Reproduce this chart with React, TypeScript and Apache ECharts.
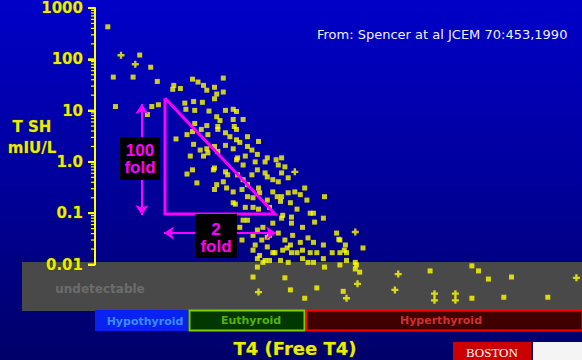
import React, { useEffect, useRef } from "react";
import * as echarts from "echarts";

// TSH axis tick labels (log scale, mIU/L)
const tshTickLabels = ["0.01", "0.1", "1.0", "10", "100", "1000"];
const tshDecades = [0.01, 0.1, 1, 10, 100, 1000];
const minorMultipliers = [2, 3, 4, 5, 6, 7, 8, 9];
// Thyroid states shown in the bar under the chart
const thyroidStates = ["Hypothyroid", "Euthyroid", "Hyperthyroid"];

// [Free T4, TSH] — measurable TSH, small dots
const measuredDots: [number, number][] = [
  [4.8, 430], [7.7, 121], [8.7, 70], [5.3, 45], [7.1, 45], [9.3, 37], [10.8, 31], [10.7, 26],
  [11.4, 27], [12.5, 41], [13.0, 36], [13.5, 31], [13.8, 25], [14.5, 28.5], [15.3, 43], [14.7, 21],
  [15.3, 23], [14.5, 17], [5.5, 12], [8.8, 12], [9.4, 13], [8.4, 8.4], [11.8, 14], [12.6, 15],
  [13.4, 14.5], [11.9, 10.6], [12.7, 10.1], [14.0, 9.8], [15.5, 10.1], [16.2, 10.6], [16.5, 9.6], [14.7, 7.6],
  [15.0, 6.4], [16.2, 6.7], [17.1, 6.7], [12.7, 5.6], [13.8, 5.1], [14.8, 4.9], [16.3, 4.9], [11.0, 2.8],
  [12.0, 3.4], [12.5, 3.9], [13.3, 4.3], [13.9, 3.4], [14.8, 4.3], [15.5, 3.7], [15.9, 3.1], [16.5, 4.3],
  [16.5, 2.7], [17.5, 3.1], [12.6, 2.2], [13.2, 1.7], [12.3, 1.3], [13.5, 1.3], [13.8, 1.8], [14.5, 2.0],
  [14.8, 1.6], [15.5, 2.1], [16.2, 1.8], [16.8, 2.4], [17.5, 2.0], [17.9, 1.7], [18.5, 2.5], [18.4, 1.4],
  [19.3, 1.2], [20.1, 1.1], [20.6, 1.2], [17.3, 1.3], [16.5, 1.1], [12.5, 0.7], [14.5, 0.76], [15.5, 0.64],
  [12.0, 0.58], [12.9, 0.39], [14.7, 0.36], [15.6, 0.31], [16.2, 0.26], [17.1, 0.45], [17.9, 0.56], [18.4, 0.7],
  [19.1, 0.61], [19.8, 0.45], [20.6, 0.61], [20.9, 0.8], [17.5, 0.21], [16.2, 0.16], [18.6, 0.25], [19.3, 0.18],
  [19.8, 0.26], [20.6, 0.21], [21.2, 0.25], [21.8, 0.26], [18.0, 0.13], [19.5, 0.13], [20.6, 0.08], [21.5, 0.084],
  [22.0, 0.12], [21.5, 0.064], [19.8, 0.064], [18.9, 0.053], [18.4, 0.047], [17.1, 0.073], [16.8, 0.053], [18.0, 0.037],
  [18.8, 0.03], [19.5, 0.037], [20.3, 0.041], [20.9, 0.03], [21.6, 0.037], [19.3, 0.022], [20.0, 0.017], [18.0, 0.019],
  [18.6, 0.015], [21.1, 0.021], [22.0, 0.017], [16.6, 1.2], [17.1, 0.87], [18.2, 1.0], [19.1, 1.0], [20.3, 0.87],
  [13.9, 1.5], [14.4, 0.7], [15.7, 0.56], [16.6, 0.56], [19.3, 0.51], [20.3, 0.41], [21.2, 0.49], [15.3, 0.41],
  [14.5, 0.29], [17.0, 0.29], [17.5, 0.36], [18.5, 0.31], [18.0, 0.2], [20.2, 0.21], [20.5, 0.17], [21.4, 0.16],
  [22.3, 0.23], [22.7, 0.31], [22.9, 0.18], [23.5, 0.1], [24.5, 0.21], [16.4, 0.15], [17.3, 0.13], [18.5, 0.12],
  [20.7, 0.091], [23.2, 0.1], [23.6, 0.067], [24.4, 0.08], [22.5, 0.053], [22.3, 0.027], [23.0, 0.033], [23.5, 0.027],
  [24.4, 0.024], [25.6, 0.041], [25.9, 0.03], [26.4, 0.024], [18.2, 0.024], [19.8, 0.017], [20.7, 0.019], [21.5, 0.017],
  [22.5, 0.019], [23.2, 0.017], [23.8, 0.017], [25.2, 0.017], [25.9, 0.017], [26.5, 0.017], [18.4, 0.013], [19.1, 0.012],
  [20.5, 0.012], [21.2, 0.011], [22.5, 0.013], [23.5, 0.011], [24.4, 0.013], [26.5, 0.012], [27.3, 0.011], [17.0, 0.03],
  [21.4, 0.024], [25.8, 0.031], [26.3, 0.019], [28.0, 0.021], [17.5, 0.073], [19.3, 0.034], [18.9, 0.011], [23.0, 0.011],
  [19.5, 0.012],
];
// [Free T4, TSH] — measurable TSH, cross markers
const measuredPlus: [number, number][] = [[6.0, 120], [7.3, 80], [21.8, 0.64], [27.3, 0.043]];

// [Free T4, TSH] — undetectable TSH (below 0.01), small dots
const undetectableDots: [number, number][] = [
  [18.4, 0.0089], [24.5, 0.0089], [25.9, 0.0098], [27.4, 0.0098], [27.3, 0.0082], [27.7, 0.0071], [18.0, 0.0057],
  [20.9, 0.0055], [21.4, 0.0032], [23.8, 0.0035], [26.2, 0.003], [22.7, 0.0022], [34.1, 0.0075], [37.9, 0.0094],
  [38.5, 0.0075], [39.4, 0.0052], [41.5, 0.0057], [37.9, 0.0022], [40.8, 0.0023], [44.8, 0.0023],
];
// [Free T4, TSH] — undetectable TSH, cross markers
const undetectablePlus: [number, number][] = [
  [18.5, 0.0029], [27.5, 0.0042], [26.5, 0.0022], [31.2, 0.0065], [30.9, 0.0032], [47.4, 0.0055],
  [34.5, 0.0027], [34.5, 0.002], [36.4, 0.0027], [36.4, 0.002],
];

// "100 fold / 2 fold" annotation, in [Free T4, TSH]
const foldTriangle: [number, number][] = [[10, 17.4], [10, 0.097], [20, 0.097], [10, 17.4]];
const foldArrows: [number, number][][] = [
  [[7.9, 13.4], [7.9, 0.092]],
  [[9.9, 0.041], [20.1, 0.041]],
];

const PLUS = "path://M2,0H4V2H6V4H4V6H2V4H0V2H2Z";
const YELLOW = "#ffff00";
const MAGENTA = "#ff00ff";
const BOLD = '"DejaVu Sans", sans-serif';
const FOLD_FONT = 'bold 17px "Liberation Sans", Arial, sans-serif';
const X_MIN = 40 / 11;
const X_MAX = 527 / 11;

export default function App() {
  const ref = useRef<HTMLDivElement>(null);
  useEffect(() => {
    if (!ref.current) return;
    const chart = echarts.init(ref.current, null, { renderer: "svg" });
    const xCommon = { type: "value", min: X_MIN, max: X_MAX, show: false };
    // axis tick marks: [TSH value, 1 = decade / 0 = minor]
    const tickMarks: [number, number][] = [];
    tshDecades.forEach((d, i) => {
      tickMarks.push([d, 1]);
      if (i < tshDecades.length - 1) minorMultipliers.forEach((m) => tickMarks.push([d * m, 0]));
    });
    const option: any = {
      animation: false,
      backgroundColor: {
        type: "linear", x: 0, y: 0, x2: 0, y2: 1,
        colorStops: [
          { offset: 0, color: "#0000c8" },
          { offset: 0.5, color: "#00009c" },
          { offset: 0.75, color: "#000082" },
          { offset: 1, color: "#00006a" },
        ],
      },
      grid: [
        { left: 95, top: 8, width: 487, height: 256.5 },
        { left: 95, top: 264.5, width: 487, height: 51.3 },
      ],
      xAxis: [
        { ...xCommon, gridIndex: 0 },
        { ...xCommon, gridIndex: 1 },
      ],
      yAxis: [
        {
          type: "log", gridIndex: 0, logBase: 10, min: 0.01, max: 1000, splitNumber: 5, z: 10,
          axisLine: { show: true, lineStyle: { color: YELLOW, width: 2 } },
          axisTick: { show: true, length: 7, lineStyle: { color: YELLOW, width: 2 } },
          splitLine: { show: false },
          axisLabel: {
            margin: 12, color: "#ecec00", fontFamily: BOLD, fontWeight: "bold", fontSize: 15,
            textBorderColor: "rgba(70,70,0,0.7)", textBorderWidth: 1,
            formatter: (v: number) => tshTickLabels[Math.round(Math.log10(v)) + 2] ?? "",
          },
        },
        { type: "log", gridIndex: 1, logBase: 10, min: 0.001, max: 0.01, show: false },
      ],
      series: [
        {
          type: "custom", xAxisIndex: 0, yAxisIndex: 0, data: tickMarks, encode: { y: 0 },
          silent: true, z: 10, clip: false,
          renderItem: (_p: any, api: any) => {
            const p = api.coord([X_MIN, api.value(0)]);
            const major = api.value(1) === 1;
            const len = major ? 7 : 4;
            return {
              type: "line",
              shape: { x1: p[0] - len, y1: p[1], x2: p[0], y2: p[1] },
              style: { stroke: YELLOW, lineWidth: major ? 2 : 1.2 },
            };
          },
        },
        {
          type: "scatter", xAxisIndex: 0, yAxisIndex: 0, data: measuredDots,
          symbol: "rect", symbolSize: 5, itemStyle: { color: YELLOW },
        },
        {
          type: "scatter", xAxisIndex: 0, yAxisIndex: 0, data: measuredPlus,
          symbol: PLUS, symbolSize: 7, itemStyle: { color: YELLOW },
        },
        {
          type: "scatter", xAxisIndex: 1, yAxisIndex: 1, data: undetectableDots,
          symbol: "rect", symbolSize: 5, itemStyle: { color: YELLOW },
        },
        {
          type: "scatter", xAxisIndex: 1, yAxisIndex: 1, data: undetectablePlus,
          symbol: PLUS, symbolSize: 7, itemStyle: { color: YELLOW },
        },
        {
          type: "line", xAxisIndex: 0, yAxisIndex: 0, data: foldTriangle, symbol: "none",
          lineStyle: { color: MAGENTA, width: 3, join: "miter" }, z: 4,
        },
        {
          type: "lines", coordinateSystem: "cartesian2d", xAxisIndex: 0, yAxisIndex: 0,
          symbol: ["arrow", "arrow"], symbolSize: 10,
          lineStyle: { color: MAGENTA, width: 2, opacity: 1 },
          data: foldArrows.map((c) => ({ coords: c })), z: 4,
        },
      ],
      graphic: [
        { type: "rect", z: -1, shape: { x: 22, y: 262, width: 560, height: 49 }, style: { fill: "#494949" } },
        {
          type: "text", z: 1, x: 100, y: 289,
          style: { text: "undetectable", fill: "#6c6c6c", font: `bold 12px ${BOLD}`, textAlign: "center", textVerticalAlign: "middle" },
        },
        // fold labels
        { type: "rect", z: 20, shape: { x: 120, y: 137, width: 40, height: 43 }, style: { fill: "#000000" } },
        {
          type: "text", z: 21, x: 140, y: 158.5,
          style: { text: "100\nfold", lineHeight: 17, fill: MAGENTA, font: FOLD_FONT, textAlign: "center", textVerticalAlign: "middle" },
        },
        { type: "rect", z: 20, shape: { x: 195, y: 214, width: 42, height: 44 }, style: { fill: "#000000" } },
        {
          type: "text", z: 21, x: 216, y: 237.5,
          style: { text: "2\nfold", lineHeight: 17, fill: MAGENTA, font: FOLD_FONT, textAlign: "center", textVerticalAlign: "middle" },
        },
        // axis titles
        {
          type: "text", x: 32, y: 137.5,
          style: { text: "T SH\nmIU/L", lineHeight: 21, fill: "#ecec00", font: `bold 15px ${BOLD}`, textAlign: "center", textVerticalAlign: "middle", stroke: "rgba(70,70,0,0.7)", lineWidth: 1 },
        },
        {
          type: "text", x: 295, y: 348,
          style: { text: "T4 (Free T4)", fill: "#ecec00", font: `bold 18px ${BOLD}`, textAlign: "center", textVerticalAlign: "middle", stroke: "rgba(70,70,0,0.7)", lineWidth: 1 },
        },
        {
          type: "text", x: 317, y: 34,
          style: { text: "From: Spencer at al JCEM 70:453,1990", fill: "#f0f0ff", font: '13px "DejaVu Sans", sans-serif', textAlign: "left", textVerticalAlign: "middle" },
        },
        // thyroid state bar
        { type: "rect", shape: { x: 95, y: 310, width: 93, height: 21 }, style: { fill: "#0a22f0" } },
        {
          type: "text", x: 145, y: 321,
          style: { text: thyroidStates[0], fill: "#3c8cff", font: `bold 11px ${BOLD}`, textAlign: "center", textVerticalAlign: "middle" },
        },
        { type: "rect", shape: { x: 189.5, y: 310.5, width: 115, height: 20 }, style: { fill: "#003800", stroke: "#7ad000", lineWidth: 2 } },
        {
          type: "text", x: 251, y: 320,
          style: { text: thyroidStates[1], fill: "#56b400", font: `bold 11px ${BOLD}`, textAlign: "center", textVerticalAlign: "middle" },
        },
        { type: "rect", shape: { x: 306.5, y: 310.5, width: 276, height: 20 }, style: { fill: "#400000", stroke: "#ff0000", lineWidth: 2 } },
        {
          type: "text", x: 441, y: 320,
          style: { text: thyroidStates[2], fill: "#d03030", font: `bold 11px ${BOLD}`, textAlign: "center", textVerticalAlign: "middle" },
        },
        // logos
        { type: "rect", shape: { x: 453, y: 342, width: 78, height: 18 }, style: { fill: "#cc0000" } },
        {
          type: "text", x: 492, y: 352.5,
          style: { text: "BOSTON", fill: "#ffffff", font: '13px "Liberation Serif", serif', textAlign: "center", textVerticalAlign: "middle" },
        },
        { type: "rect", shape: { x: 533, y: 342, width: 49, height: 18 }, style: { fill: "#f4f4f4" } },
      ],
    };
    chart.setOption(option);
    return () => chart.dispose();
  }, []);
  return <div ref={ref} style={{ position: "fixed", left: 0, top: 0, width: 582, height: 360 }} />;
}
